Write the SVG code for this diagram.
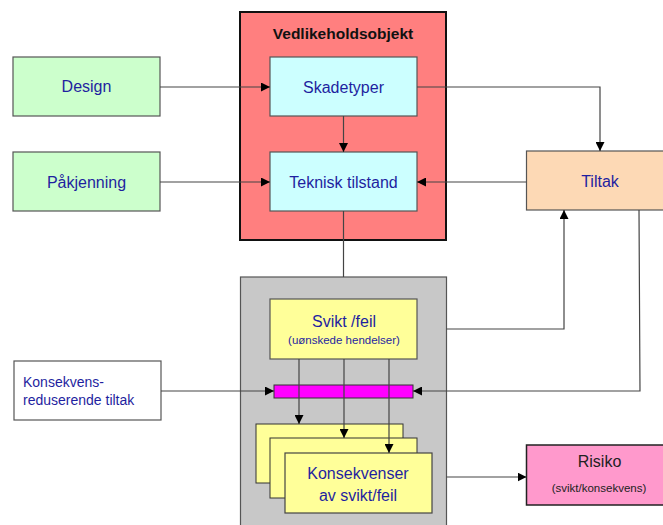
<svg xmlns="http://www.w3.org/2000/svg" width="663" height="525" viewBox="0 0 663 525">
<style>
text{font-family:"Liberation Sans",Arial,sans-serif;fill:#1f1fa0;text-anchor:middle}
.lbl{font-size:16px}
.sm{font-size:11.5px}
.box{stroke:#555;stroke-width:1.2}
.con{fill:none;stroke:#444;stroke-width:1.2}
</style>
<defs>
<marker id="ah" markerUnits="userSpaceOnUse" markerWidth="9" markerHeight="9" refX="9" refY="4.5" orient="auto">
<path d="M0,0 L9,4.5 L0,9 z" fill="#000"/>
</marker>
</defs>
<rect width="663" height="525" fill="#fff"/>
<g id="vedlikeholdsobjekt">
<rect x="240" y="12" width="206" height="228" fill="#FF7F7F" stroke="#111" stroke-width="2"/>
<text x="343" y="39" style="font-size:15.5px;font-weight:bold;fill:#111">Vedlikeholdsobjekt</text>
</g>
<g id="grouping">
<rect x="240.5" y="277" width="206" height="260" fill="#C8C8C8" stroke="#555" stroke-width="1.2"/>
</g>
<g id="skadetyper">
<rect class="box" x="270" y="57" width="147" height="59" fill="#CCFFFF"/>
<text class="lbl" x="343.5" y="93">Skadetyper</text>
</g>
<g id="teknisk">
<rect class="box" x="270" y="152" width="147" height="59" fill="#CCFFFF"/>
<text class="lbl" x="343.5" y="188">Teknisk tilstand</text>
</g>
<g id="design">
<rect class="box" x="13" y="57" width="147" height="59" fill="#CCFFCC"/>
<text class="lbl" x="86.5" y="92">Design</text>
</g>
<g id="pakjenning">
<rect class="box" x="13" y="152" width="147" height="59" fill="#CCFFCC"/>
<text class="lbl" x="86.5" y="188">Påkjenning</text>
</g>
<g id="tiltak">
<rect class="box" x="526.5" y="151" width="145" height="59" fill="#FDD9B5"/>
<text class="lbl" x="600" y="187">Tiltak</text>
</g>
<g id="svikt">
<rect class="box" x="270" y="299" width="147" height="60" fill="#FFFF99"/>
<text class="lbl" x="344" y="327">Svikt /feil</text>
<text class="sm" x="344" y="344">(uønskede hendelser)</text>
</g>
<g id="barriere">
<rect x="274" y="385" width="139" height="13" fill="#FF00FF" stroke="#333" stroke-width="1"/>
</g>
<g id="konsekvensreduserende">
<rect class="box" x="14" y="361" width="147" height="59" fill="#fff"/>
<text x="23" y="387" style="font-size:14px;text-anchor:start">Konsekvens-</text>
<text x="23" y="405" style="font-size:14px;text-anchor:start">reduserende tiltak</text>
</g>
<g id="konsekvenser">
<rect x="256" y="424" width="147" height="59" fill="#FFFF99" stroke="#333" stroke-width="1"/>
<rect x="270" y="438" width="147" height="60" fill="#FFFF99" stroke="#333" stroke-width="1"/>
<rect x="285" y="453" width="147" height="60" fill="#FFFF99" stroke="#444" stroke-width="1.2"/>
<text class="lbl" x="358" y="479">Konsekvenser</text>
<text class="lbl" x="358" y="501">av svikt/feil</text>
</g>
<g id="risiko">
<rect x="526.5" y="445" width="145" height="60" fill="#FF99CC" stroke="#222" stroke-width="1.5"/>
<text x="599.5" y="467" style="font-size:16px;fill:#222">Risiko</text>
<text x="599" y="492" style="font-size:11.5px;fill:#222">(svikt/konsekvens)</text>
</g>
<g id="connectors">
<path class="con" d="M160,87 H270" marker-end="url(#ah)"/>
<path class="con" d="M160,182 H270" marker-end="url(#ah)"/>
<path class="con" d="M343.5,116 V152" marker-end="url(#ah)"/>
<path class="con" d="M417,87 H600 V151" marker-end="url(#ah)"/>
<path class="con" d="M526.5,182 H417" marker-end="url(#ah)"/>
<path class="con" d="M343.5,211 V277"/>
<path class="con" d="M446.5,329 H564 V210" marker-end="url(#ah)"/>
<path class="con" d="M639,210 L640,391 H413" marker-end="url(#ah)"/>
<path class="con" d="M161,391 H274" marker-end="url(#ah)"/>
<path class="con" d="M299,359 V424" marker-end="url(#ah)"/>
<path class="con" d="M344,359 V438" marker-end="url(#ah)"/>
<path class="con" d="M389,359 V453" marker-end="url(#ah)"/>
<path class="con" d="M446.5,477 H526.5" marker-end="url(#ah)"/>
</g>
</svg>
